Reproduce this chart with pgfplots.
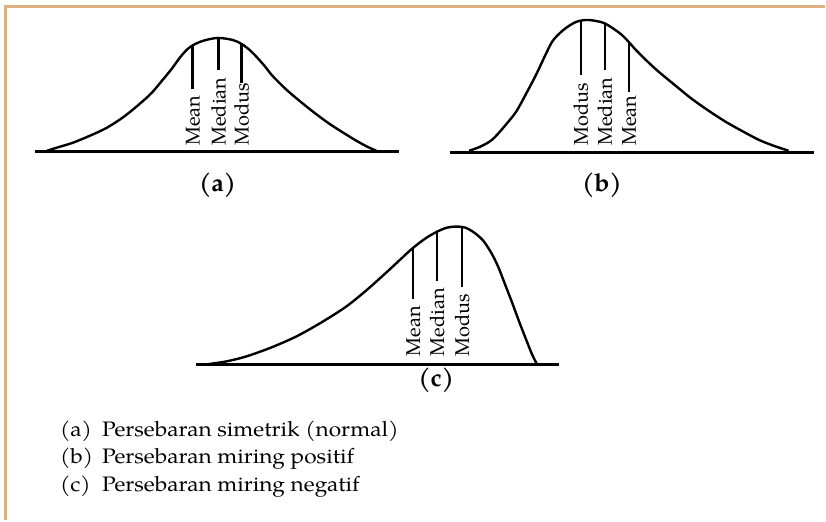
\documentclass[border=0pt]{standalone}
\usepackage{fontspec}
\setmainfont{TeX Gyre Pagella}
\usepackage{pgfplots}
\pgfplotsset{compat=1.18}
\definecolor{framec}{RGB}{222,176,130}
\newcommand{\lbl}{\fontsize{20}{24}\selectfont}
\newcommand{\leg}[1]{\scalebox{1.08}[1]{\fontsize{21}{25}\selectfont #1}}
\tikzset{vl/.style={rotate=90, anchor=base west, inner sep=0pt, font=\lbl}}
\begin{document}
\begin{tikzpicture}
\begin{axis}[width=826pt,height=521pt,scale only axis,
  xmin=0,xmax=826,ymin=0,ymax=521,y dir=reverse,
  hide axis, clip=false]
\path (axis cs:0,0) rectangle (axis cs:826,521);
% frame
\addplot[framec, line width=3pt] coordinates {(6,521) (6,7) (826,7)};
% ---------- (a)
\addplot[black, line width=2.8pt] coordinates {(35,152) (400,152)};
\addplot[black, line width=2.4pt, smooth] coordinates {
(47,151) (60,147) (73,143) (90,136) (107,128) (124,117) (140,104) (152,93) (163,80)
(172,69) (180,58) (186,51) (192,46) (203,41) (218,38)
(233,40) (242,44) (250,50) (257,57) (265,66) (273,76) (286,89) (300,101) (315,113)
(330,124) (344,133) (357,141) (368,147) (377,151)};
\addplot[black, line width=2.4pt] coordinates {(193,46) (193,89)};
\addplot[black, line width=2.4pt] coordinates {(219,37) (219,70)};
\addplot[black, line width=2.4pt] coordinates {(242,44) (242,83)};
\node[vl] at (axis cs:200,146) {Mean};
\node[vl] at (axis cs:226,146) {Median};
\node[vl] at (axis cs:249,146) {Modus};
\node[font=\bfseries\fontsize{25}{30}\selectfont] at (axis cs:218,186) {(a)};
% ---------- (b)
\addplot[black, line width=2.8pt] coordinates {(451,153) (815,153)};
\addplot[black, line width=2.4pt, smooth] coordinates {
(470,151) (481,147) (493,140) (505,127) (517,112) (527,94) (537,75) (545,58)
(553,42) (560,34) (567,28) (577,22) (587,20) (597,21) (607,24)
(623,35) (637,50) (648,61) (660,72) (677,86) (693,99) (710,111) (727,122)
(743,131) (760,140) (775,146) (790,151)};
\addplot[black, line width=2.4pt] coordinates {(582,20) (582,75)};
\addplot[black, line width=2.4pt] coordinates {(606,23) (606,70)};
\addplot[black, line width=2.4pt] coordinates {(630,41) (630,92)};
\node[vl] at (axis cs:589,146) {Modus};
\node[vl] at (axis cs:613,146) {Median};
\node[vl] at (axis cs:637,146) {Mean};
\node[font=\bfseries\fontsize{25}{30}\selectfont] at (axis cs:603,186) {(b)};
% ---------- (c)
\addplot[black, line width=2.8pt] coordinates {(196,365) (560,365)};
\addplot[black, line width=2.4pt, smooth] coordinates {
(207,365) (227,362) (247,357) (272,348) (297,337) (322,323) (347,307) (368,290)
(387,273) (401,260) (413,249) (426,239) (438,232) (448,228) (457,227) (466,228)
(475,233) (484,241) (492,253) (499,267) (506,285) (513,303) (520,322) (527,340)
(533,355) (538,365)};
\addplot[black, line width=2.4pt] coordinates {(414,248) (414,300)};
\addplot[black, line width=2.4pt] coordinates {(438,231) (438,282)};
\addplot[black, line width=2.4pt] coordinates {(463,227) (463,288)};
\node[vl] at (axis cs:421,357) {Mean};
\node[vl] at (axis cs:445,357) {Median};
\node[vl] at (axis cs:470,357) {Modus};
\node[font=\bfseries\fontsize{25}{30}\selectfont] at (axis cs:437,381) {(c)};
% ---------- legend
\node[anchor=base west, inner sep=0pt] at (axis cs:60,437) {\leg{(a)}};
\node[anchor=base west, inner sep=0pt] at (axis cs:102,437) {\leg{Persebaran simetrik (normal)}};
\node[anchor=base west, inner sep=0pt] at (axis cs:60,464) {\leg{(b)}};
\node[anchor=base west, inner sep=0pt] at (axis cs:102,464) {\leg{Persebaran miring positif}};
\node[anchor=base west, inner sep=0pt] at (axis cs:60,492) {\leg{(c)}};
\node[anchor=base west, inner sep=0pt] at (axis cs:102,492) {\leg{Persebaran miring negatif}};
\end{axis}
\end{tikzpicture}
\end{document}
